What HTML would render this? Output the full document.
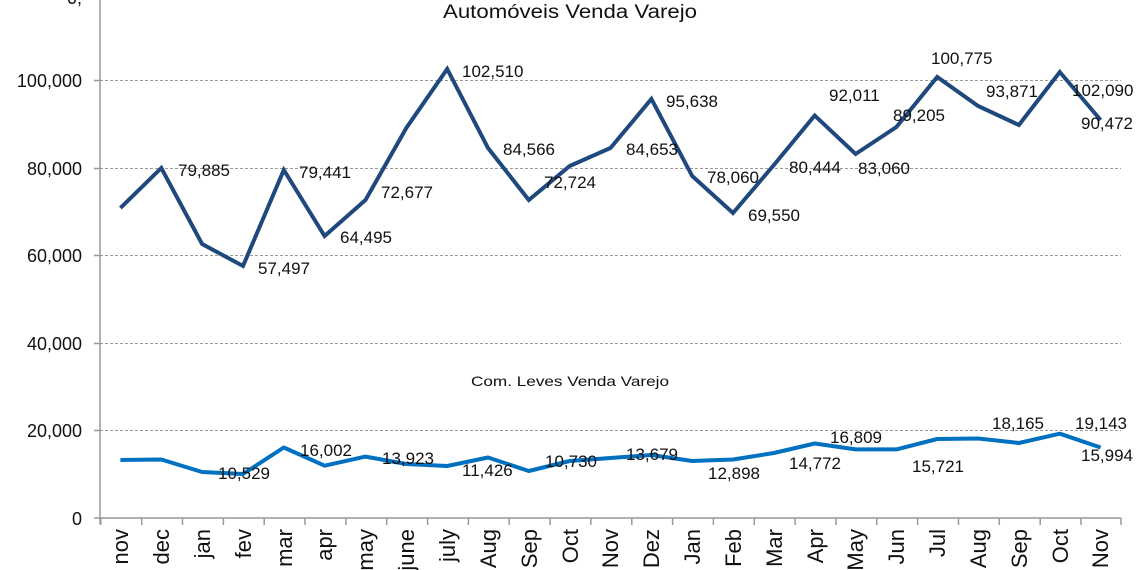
<!DOCTYPE html><html><head><style>body{margin:0;background:#fff}svg{display:block;font-family:"Liberation Sans",Arial,sans-serif}</style></head><body>
<svg width="1140" height="570" xmlns="http://www.w3.org/2000/svg">
<g stroke="#999" stroke-dasharray="3,2" stroke-width="1">
<line x1="100" y1="80.5" x2="1121" y2="80.5"/><line x1="100" y1="168.5" x2="1121" y2="168.5"/><line x1="100" y1="255.5" x2="1121" y2="255.5"/><line x1="100" y1="343.5" x2="1121" y2="343.5"/><line x1="100" y1="430.5" x2="1121" y2="430.5"/>
</g>
<g stroke="#999" stroke-width="1.5" fill="none">
<line x1="100" y1="0" x2="100" y2="524"/><line x1="94" y1="518" x2="1121" y2="518"/>
<line x1="94" y1="80.5" x2="100" y2="80.5"/><line x1="94" y1="168.5" x2="100" y2="168.5"/><line x1="94" y1="255.5" x2="100" y2="255.5"/><line x1="94" y1="343.5" x2="100" y2="343.5"/><line x1="94" y1="430.5" x2="100" y2="430.5"/>
<path d="M100.8 518v7M141.7 518v7M182.5 518v7M223.4 518v7M264.2 518v7M305 518v7M345.9 518v7M386.7 518v7M427.6 518v7M468.4 518v7M509.2 518v7M550.1 518v7M590.9 518v7M631.8 518v7M672.6 518v7M713.4 518v7M754.3 518v7M795.1 518v7M836 518v7M876.8 518v7M917.6 518v7M958.5 518v7M999.3 518v7M1040.2 518v7M1081 518v7M1121 518v7"/>
</g>
<g font-size="18" fill="#111" text-anchor="end">
<text x="82" y="87">100,000</text><text x="82" y="175">80,000</text><text x="82" y="262">60,000</text><text x="82" y="350">40,000</text><text x="82" y="437">20,000</text><text x="82" y="525">0</text><text x="82" y="4">0,</text>
</g>
<text x="443" y="18" font-size="19" textLength="254" lengthAdjust="spacingAndGlyphs" fill="#111">Automóveis Venda Varejo</text>
<text x="471" y="386" font-size="14" textLength="198" lengthAdjust="spacingAndGlyphs" fill="#111">Com. Leves Venda Varejo</text>
<polyline fill="none" stroke="#1f497d" stroke-width="4" points="120.4,208 161.3,168 202.1,244 243,266 283.8,170 324.6,236 365.5,200 406.3,128 447.2,69 488,148 528.8,200 569.7,166 610.5,148 651.4,99 692.2,176 733,213 773.9,165 814.7,115.5 855.6,154 896.4,127 937.2,77 978.1,106 1018.9,125 1059.8,72 1100.6,120"/>
<polyline fill="none" stroke="#0070c0" stroke-width="4" stroke-linejoin="round" points="120.4,460 161.3,459.5 202.1,472 243,474 283.8,447.5 324.6,465.7 365.5,456.6 406.3,464 447.2,466 488,457.5 528.8,471 569.7,461 610.5,458 651.4,455 692.2,461 733,459.5 773.9,453 814.7,443.5 855.6,449.4 896.4,449.4 937.2,439 978.1,438.5 1018.9,443 1059.8,433.7 1100.6,447.5"/>
<g font-size="17" fill="#111">
<text x="178" y="176">79,885</text><text x="258" y="274">57,497</text><text x="299" y="178">79,441</text><text x="340" y="243">64,495</text><text x="381" y="198">72,677</text><text x="462" y="77">102,510</text><text x="503" y="155">84,566</text><text x="544" y="188">72,724</text><text x="626" y="155">84,653</text><text x="666" y="107">95,638</text><text x="707" y="183">78,060</text><text x="748" y="221">69,550</text><text x="789" y="173">80,444</text><text x="829" y="101">92,011</text><text x="858" y="174">83,060</text><text x="893" y="121">89,205</text><text x="931" y="64">100,775</text><text x="986" y="97">93,871</text><text x="1072" y="96">102,090</text><text x="1081" y="129">90,472</text>
<text x="218" y="479">10,529</text><text x="300" y="456">16,002</text><text x="382" y="464">13,923</text><text x="462" y="476">11,426</text><text x="545" y="467">10,730</text><text x="626" y="460">13,679</text><text x="708" y="479">12,898</text><text x="789" y="469">14,772</text><text x="830" y="443">16,809</text><text x="912" y="472">15,721</text><text x="992" y="429">18,165</text><text x="1075" y="429">19,143</text><text x="1081" y="461">15,994</text>
</g>
<g font-size="22" fill="#111" text-anchor="end">
<text transform="translate(128,529) rotate(-90)">nov</text><text transform="translate(169,529) rotate(-90)">dec</text><text transform="translate(210,529) rotate(-90)">jan</text><text transform="translate(251,529) rotate(-90)">fev</text><text transform="translate(292,529) rotate(-90)">mar</text><text transform="translate(332,529) rotate(-90)">apr</text><text transform="translate(373,529) rotate(-90)">may</text><text transform="translate(414,529) rotate(-90)">june</text><text transform="translate(455,529) rotate(-90)">july</text><text transform="translate(496,529) rotate(-90)">Aug</text><text transform="translate(537,529) rotate(-90)">Sep</text><text transform="translate(578,529) rotate(-90)">Oct</text><text transform="translate(618,529) rotate(-90)">Nov</text><text transform="translate(659,529) rotate(-90)">Dez</text><text transform="translate(700,529) rotate(-90)">Jan</text><text transform="translate(741,529) rotate(-90)">Feb</text><text transform="translate(782,529) rotate(-90)">Mar</text><text transform="translate(823,529) rotate(-90)">Apr</text><text transform="translate(863,529) rotate(-90)">May</text><text transform="translate(904,529) rotate(-90)">Jun</text><text transform="translate(945,529) rotate(-90)">Jul</text><text transform="translate(986,529) rotate(-90)">Aug</text><text transform="translate(1027,529) rotate(-90)">Sep</text><text transform="translate(1068,529) rotate(-90)">Oct</text><text transform="translate(1108,529) rotate(-90)">Nov</text>
</g>
</svg></body></html>
